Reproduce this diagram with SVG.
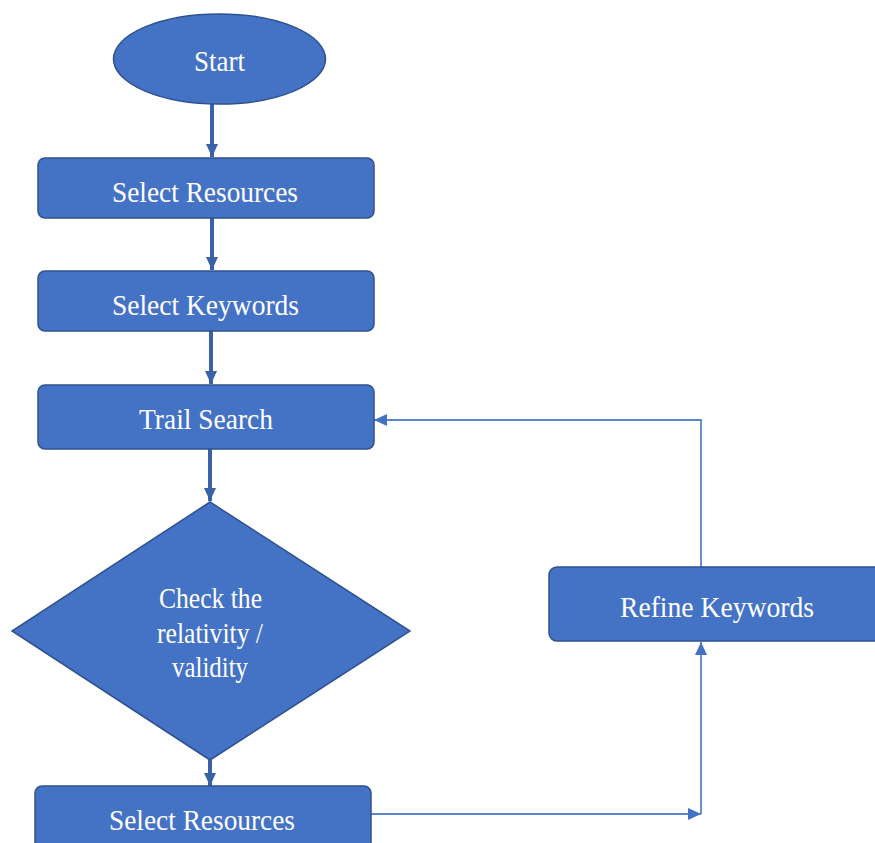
<svg xmlns="http://www.w3.org/2000/svg" width="875" height="843" viewBox="0 0 875 843">
<defs>
<style>
.node{fill:#4472C4;stroke:#2F528F;stroke-width:1.5}
.lbl{fill:#fff;font-family:"Liberation Serif","Times New Roman",serif;font-size:30px;text-anchor:middle}
.thick{stroke:#3A62A8;stroke-width:4;fill:none}
.thin{stroke:#5B84CC;stroke-width:1.8;fill:none}
</style>
<marker id="ah" markerUnits="userSpaceOnUse" markerWidth="14" markerHeight="14" viewBox="0 0 14 14" refX="13" refY="7" orient="auto">
<path d="M0,1 L13,7 L0,13 Z" fill="#3A62A8"/>
</marker>
<marker id="ah2" markerUnits="userSpaceOnUse" markerWidth="14" markerHeight="14" viewBox="0 0 14 14" refX="13" refY="7" orient="auto">
<path d="M0,1 L13,7 L0,13 Z" fill="#4472C4"/>
</marker>
</defs>
<g id="connectors">
<line class="thick" x1="212" y1="104" x2="212" y2="157" marker-end="url(#ah)"/>
<line class="thick" x1="212" y1="218" x2="212" y2="270" marker-end="url(#ah)"/>
<line class="thick" x1="211" y1="331" x2="211" y2="384" marker-end="url(#ah)"/>
<line class="thick" x1="210" y1="449" x2="210" y2="501" marker-end="url(#ah)"/>
<line class="thick" x1="210" y1="760" x2="210" y2="786" marker-end="url(#ah)"/>
<polyline class="thin" points="371,814 701,814" marker-end="url(#ah2)"/>
<polyline class="thin" points="701,814 701,642" marker-end="url(#ah2)"/>
<polyline class="thin" points="701,567 701,420 374,420" marker-end="url(#ah2)"/>
</g>
<g id="start">
<ellipse class="node" cx="219.5" cy="59" rx="106" ry="45"/>
<text class="lbl" x="219.5" y="71" textLength="51" lengthAdjust="spacingAndGlyphs">Start</text>
</g>
<g id="select-resources-1">
<rect class="node" x="38" y="158" width="336" height="60" rx="7"/>
<text class="lbl" x="205" y="202" textLength="186" lengthAdjust="spacingAndGlyphs">Select Resources</text>
</g>
<g id="select-keywords">
<rect class="node" x="38" y="271" width="336" height="60" rx="7"/>
<text class="lbl" x="205.5" y="315" textLength="187" lengthAdjust="spacingAndGlyphs">Select Keywords</text>
</g>
<g id="trail-search">
<rect class="node" x="38" y="385" width="336" height="64" rx="7"/>
<text class="lbl" x="206" y="429" textLength="134" lengthAdjust="spacingAndGlyphs">Trail Search</text>
</g>
<g id="check">
<polygon class="node" points="210,502 410,631 210,760 12,631"/>
<text class="lbl" x="210.5" y="608" textLength="103" lengthAdjust="spacingAndGlyphs">Check the</text>
<text class="lbl" x="210" y="643" textLength="106" lengthAdjust="spacingAndGlyphs">relativity /</text>
<text class="lbl" x="210" y="677" textLength="76" lengthAdjust="spacingAndGlyphs">validity</text>
</g>
<g id="select-resources-2">
<rect class="node" x="35" y="786" width="336" height="70" rx="7"/>
<text class="lbl" x="202" y="830" textLength="186" lengthAdjust="spacingAndGlyphs">Select Resources</text>
</g>
<g id="refine-keywords">
<rect class="node" x="549" y="567" width="340" height="74" rx="8"/>
<text class="lbl" x="717" y="617" textLength="194" lengthAdjust="spacingAndGlyphs">Refine Keywords</text>
</g>
</svg>
